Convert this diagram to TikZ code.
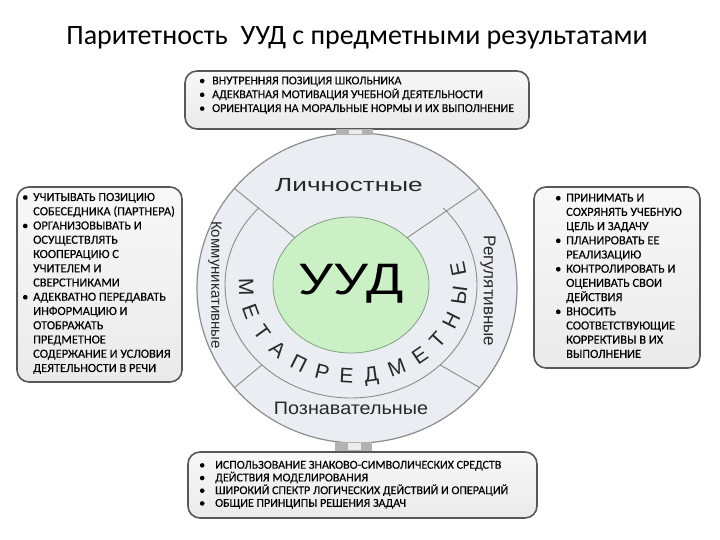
\documentclass[tikz,border=0pt]{standalone}
\usepackage{fontspec}
\setmainfont{Carlito}
\newfontfamily\arialf{Liberation Sans}
\newfontfamily\boxfont[FakeBold=0.25]{Carlito}
\usetikzlibrary{decorations.text}
\definecolor{boxedge}{RGB}{88,88,88}
\definecolor{boxtop}{RGB}{248,248,248}
\definecolor{boxbot}{RGB}{234,234,234}
\definecolor{ringfill}{RGB}{234,237,241}
\definecolor{ringline}{RGB}{140,140,140}
\definecolor{greenfill}{RGB}{204,240,198}
\definecolor{greenline}{RGB}{130,160,130}
\definecolor{labelgray}{RGB}{40,40,40}
\begin{document}
\begin{tikzpicture}[x=1pt,y=1pt,
  infobox/.style={draw=boxedge, line width=1.6pt, rounded corners=12pt, top color=boxtop, bottom color=boxbot, inner sep=0},
  boxline/.style={anchor=base west, inner sep=0, font=\boxfont\fontsize{12}{12}\selectfont, text=black},
  sideline/.style={anchor=base west, inner sep=0, font=\boxfont\fontsize{12.4}{12.4}\selectfont, text=black},
  divider/.style={draw=ringline, line width=0.9pt},
  ringlabel/.style={text=labelgray, inner sep=0},
  tabpart/.style={fill=gray!60, draw=none}]
\useasboundingbox (0,0) rectangle (720,540);
\fill[white] (0,0) rectangle (720,540);

% title
\node[inner sep=0, font=\fontsize{28}{30}\selectfont] (title) at (357,502) {Паритетность\ \ УУД с предметными результатами};

% ring
\coordinate (O) at (357,252);
\coordinate (C) at (351,255);
\coordinate (M) at (353,255);
\path[fill=ringfill, draw=ringline, line width=1.2pt] (O) ellipse [x radius=160, y radius=155];
\draw[divider] (C) ++(137:126 and 113) arc [start angle=137, end angle=403, x radius=126, y radius=113];
\path (O) ++(140:160 and 155) coordinate (d1o);
\path (C) ++(136:78 and 68) coordinate (d1i);
\path (O) ++(40:160 and 155) coordinate (d2o);
\path (C) ++(44:78 and 68) coordinate (d2i);
\path (O) ++(220:160 and 155) coordinate (d3o);
\path (C) ++(225:126 and 113) coordinate (d3i);
\path (O) ++(320:160 and 155) coordinate (d4o);
\path (C) ++(315:126 and 113) coordinate (d4i);
\draw[divider] (d1o) -- (d1i);
\draw[divider] (d2o) -- (d2i);
\draw[divider] (d3o) -- (d3i);
\draw[divider] (d4o) -- (d4i);
\path[fill=greenfill, draw=greenline, line width=0.8pt] (C) ellipse [x radius=78, y radius=68];

\node[ringlabel, font=\arialf\fontsize{19}{19}\selectfont, xscale=1.38] (lich) at (349,355) {Личностные};
\node[ringlabel, font=\arialf\fontsize{18}{18}\selectfont, xscale=1.1] (pozn) at (351,132) {Познавательные};
\node[ringlabel, font=\arialf\fontsize{15}{15}\selectfont, rotate=-90] (komm) at (215,255) {Коммуникативные};
\node[ringlabel, font=\arialf\fontsize{17}{17}\selectfont, rotate=-90] (regu) at (488,249) {Регулятивные};
\node[inner sep=0, anchor=base, font=\arialf\fontsize{44}{44}\selectfont, xscale=1.25, text=black] (uud) at (351,245.5) {УУД};
\path[decorate, decoration={text along path, text={|\arialf\fontsize{21}{21}\selectfont\color{labelgray}|МЕТАПРЕДМЕТНЫЕ}, text align={fit to path}}]
  (M) ++(176:114 and 98) arc [start angle=176, end angle=374, x radius=114, y radius=98];

% boxes
\node[infobox, minimum width=344pt, minimum height=58pt] (tbox) at (357,440) {};
\node[infobox, minimum width=165pt, minimum height=195pt] (lbox) at (99.5,255.5) {};
\node[infobox, minimum width=166pt, minimum height=181pt] (rbox) at (617,262.5) {};
\node[infobox, minimum width=349pt, minimum height=66pt] (bbox) at (362.5,55) {};

% tabs
\fill[tabpart] (336,405) rectangle (373,411);
\fill[gray!15] (349,406) rectangle (362,410);
\fill[tabpart] (335,89) rectangle (372,98);
\fill[gray!15] (348,90) rectangle (361,97);

% top box text
\foreach \t [count=\i] in {ВНУТРЕННЯЯ ПОЗИЦИЯ ШКОЛЬНИКА, АДЕКВАТНАЯ МОТИВАЦИЯ УЧЕБНОЙ ДЕЯТЕЛЬНОСТИ, ОРИЕНТАЦИЯ НА МОРАЛЬНЫЕ НОРМЫ И ИХ ВЫПОЛНЕНИЕ}{
  \node[boxline] (t\i) at (212,{455.6-13.8*(\i-1)}) {\t};
  \node[boxline] (tb\i) at (199,{455.6-13.8*(\i-1)}) {•};
}
% left box text
\foreach \t [count=\i] in {УЧИТЫВАТЬ ПОЗИЦИЮ, СОБЕСЕДНИКА (ПАРТНЕРА), ОРГАНИЗОВЫВАТЬ И, ОСУЩЕСТВЛЯТЬ, КООПЕРАЦИЮ С, УЧИТЕЛЕМ И, СВЕРСТНИКАМИ, АДЕКВАТНО ПЕРЕДАВАТЬ, ИНФОРМАЦИЮ И, ОТОБРАЖАТЬ, ПРЕДМЕТНОЕ, СОДЕРЖАНИЕ И УСЛОВИЯ, ДЕЯТЕЛЬНОСТИ В РЕЧИ}{
  \node[sideline] (l\i) at (33,{339-14.25*(\i-1)}) {\t};
}
\foreach \i in {1,3,8}{
  \node[sideline] (lb\i) at (22,{339-14.25*(\i-1)}) {•};
}
% right box text
\foreach \t [count=\i] in {ПРИНИМАТЬ И, СОХРЯНЯТЬ УЧЕБНУЮ, ЦЕЛЬ И ЗАДАЧУ, ПЛАНИРОВАТЬ ЕЕ, РЕАЛИЗАЦИЮ, КОНТРОЛИРОВАТЬ И, ОЦЕНИВАТЬ СВОИ, ДЕЙСТВИЯ, ВНОСИТЬ, СООТВЕТСТВУЮЩИЕ, КОРРЕКТИВЫ В ИХ, ВЫПОЛНЕНИЕ}{
  \node[sideline] (r\i) at (566,{338.3-14.2*(\i-1)}) {\t};
}
\foreach \i in {1,4,6,9}{
  \node[sideline] (rb\i) at (555,{338.3-14.2*(\i-1)}) {•};
}
% bottom box text
\foreach \t [count=\i] in {ИСПОЛЬЗОВАНИЕ ЗНАКОВО-СИМВОЛИЧЕСКИХ СРЕДСТВ, ДЕЙСТВИЯ МОДЕЛИРОВАНИЯ, ШИРОКИЙ СПЕКТР ЛОГИЧЕСКИХ ДЕЙСТВИЙ И ОПЕРАЦИЙ, ОБЩИЕ ПРИНЦИПЫ РЕШЕНИЯ ЗАДАЧ}{
  \node[boxline] (b\i) at (215,{71.3-12.7*(\i-1)}) {\t};
  \node[boxline] (bb\i) at (199,{71.3-12.7*(\i-1)}) {•};
}
\end{tikzpicture}
\end{document}
